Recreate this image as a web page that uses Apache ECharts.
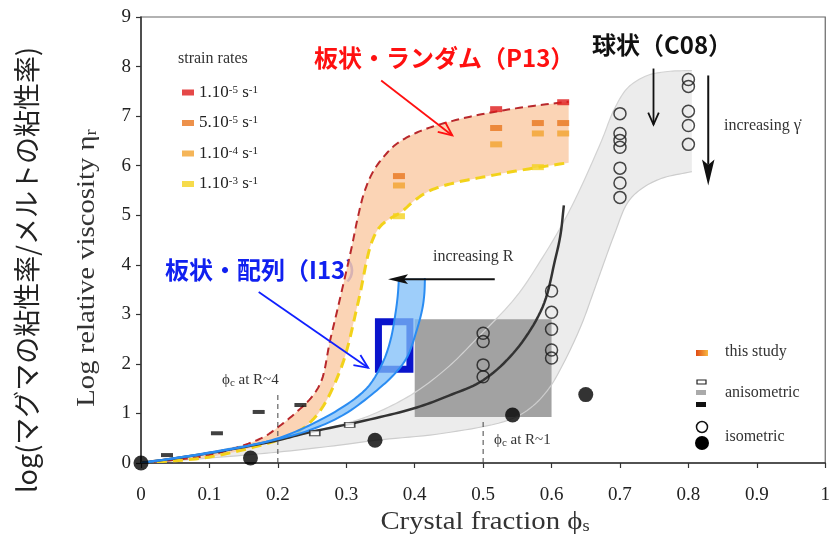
<!DOCTYPE html>
<html>
<head>
<meta charset="utf-8">
<script src="https://cdn.jsdelivr.net/npm/echarts@6/dist/echarts.min.js"></script>
<style>
  html, body { margin: 0; padding: 0; background: #fff; }
  #chart { width: 833px; height: 543px; }
</style>
</head>
<body>
<div id="chart"></div>
<script>
// ---- axis tick labels ----
const xTickLabels = ['0', '0.1', '0.2', '0.3', '0.4', '0.5', '0.6', '0.7', '0.8', '0.9', '1'];
const yTickLabels = ['0', '1', '2', '3', '4', '5', '6', '7', '8', '9'];

// ---- P13 (platy, random): envelope of this study ----
const p13Upper = [[0, 0], [0.1, 0.16], [0.176, 0.5], [0.2, 0.72], [0.225, 1.0], [0.25, 1.34], [0.264, 1.67],
  [0.276, 2.45], [0.288, 3.15], [0.308, 4.36], [0.316, 4.9], [0.326, 5.45], [0.338, 5.85], [0.35, 6.1],
  [0.37, 6.4], [0.39, 6.58], [0.418, 6.75], [0.46, 6.92], [0.514, 7.08], [0.57, 7.2], [0.625, 7.29]];
const p13Lower = [[0, 0], [0.1, 0.12], [0.2, 0.46], [0.226, 0.6], [0.259, 1.0], [0.293, 1.94], [0.317, 3.22],
  [0.337, 4.45], [0.35, 4.78], [0.365, 4.94], [0.38, 5.06], [0.4, 5.3], [0.423, 5.5], [0.46, 5.66],
  [0.5, 5.77], [0.56, 5.92], [0.625, 6.06]];

// ---- C08 (spherical) envelope ----
const c08Upper = [[0, 0], [0.1, 0.22], [0.2, 0.5], [0.3, 0.8], [0.345, 1.02], [0.4, 1.42], [0.45, 1.95],
  [0.49, 2.5], [0.548, 3.35], [0.587, 4.15], [0.615, 4.8], [0.639, 5.45], [0.673, 6.5], [0.692, 7.15],
  [0.712, 7.58], [0.74, 7.82], [0.77, 7.9], [0.805, 7.92]];
const c08Lower = [[0, 0], [0.1, 0.1], [0.2, 0.22], [0.29, 0.36], [0.345, 0.46], [0.442, 0.6], [0.538, 0.87],
  [0.57, 1.12], [0.596, 1.5], [0.62, 2.08], [0.644, 2.8], [0.66, 3.4], [0.675, 3.98], [0.692, 4.62],
  [0.711, 5.25], [0.73, 5.52], [0.76, 5.74], [0.805, 5.88]];

// ---- I13 (platy, aligned) envelope ----
const i13Left = [[0, 0], [0.095, 0.2], [0.191, 0.46], [0.24, 0.72], [0.288, 1.07], [0.32, 1.38], [0.336, 1.61],
  [0.355, 2.08], [0.365, 2.5], [0.371, 2.94], [0.375, 3.35], [0.377, 3.73]];
const i13Right = [[0, 0], [0.1, 0.2], [0.2, 0.48], [0.25, 0.68], [0.297, 0.98], [0.345, 1.47],
  [0.372, 1.82], [0.389, 2.14], [0.403, 2.68], [0.411, 3.1], [0.414, 3.4], [0.415, 3.73]];

// ---- suspension model curve (isometric) ----
const sphereCurve = [[0, 0], [0.1, 0.2], [0.2, 0.46], [0.24, 0.6], [0.335, 0.88], [0.403, 1.12],
  [0.45, 1.36], [0.5, 1.67], [0.548, 2.28], [0.587, 3.15], [0.605, 4.09], [0.613, 4.6], [0.618, 5.2]];

// ---- anisometric data range and I13 box ----
const anisoRangeX = [0.4, 0.6];
const anisoRangeY = [0.93, 2.9];
const i13BoxX = [0.347, 0.393];
const i13BoxY = [1.89, 2.85];

// ---- critical fractions ----
const phiC = [0.2, 0.5];
const phiCTop = [1.4, 0.9];

// ---- isometric data ----
const isoOpen = [[0.5, 2.62], [0.5, 2.45], [0.5, 1.98], [0.5, 1.74],
  [0.6, 3.47], [0.6, 3.04], [0.6, 2.7], [0.6, 2.28], [0.6, 2.12],
  [0.7, 7.05], [0.7, 6.65], [0.7, 6.51], [0.7, 6.37], [0.7, 5.95], [0.7, 5.65], [0.7, 5.36],
  [0.8, 7.74], [0.8, 7.6], [0.8, 7.1], [0.8, 6.81], [0.8, 6.43]];
const isoFilled = [[0, 0], [0.16, 0.1], [0.342, 0.46], [0.543, 0.97], [0.65, 1.38]];

// ---- anisometric data ----
const anisoFilled = [[0.038, 0.16], [0.111, 0.6], [0.172, 1.03], [0.233, 1.17]];
const anisoOpen = [[0.254, 0.6], [0.305, 0.77]];

// ---- this study, by strain rate ----
const rateNames = ['1.10-5 s-1', '5.10-5 s-1', '1.10-4 s-1', '1.10-3 s-1'];
const rateMantissa = ['1.10', '5.10', '1.10', '1.10'];
const rateExponent = ['-5', '-5', '-4', '-3'];
const rate1e5 = [[0.519, 7.14], [0.617, 7.28]];
const rate5e5 = [[0.377, 5.79], [0.519, 6.76], [0.58, 6.86], [0.617, 6.86]];
const rate1e4 = [[0.377, 5.6], [0.519, 6.43], [0.58, 6.65], [0.617, 6.65]];
const rate1e3 = [[0.377, 4.98], [0.58, 5.97]];
const rateColors = ['#de1a1a', '#e8761e', '#f2a22e', '#f4d21e'];

// ---- annotation arrows (data coordinates) ----
const arrowNotes = [
  { from: [0.351, 7.72], to: [0.455, 6.61], color: '#ff1010', head: 'open', size: 15 },
  { from: [0.172, 3.45], to: [0.332, 1.92], color: '#1020ff', head: 'open', size: 15 },
  { from: [0.749, 7.96], to: [0.749, 6.83], color: '#111', head: 'open', size: 13 },
  { from: [0.829, 7.82], to: [0.829, 5.6], color: '#111', head: 'filled', size: 26 },
  { from: [0.517, 3.71], to: [0.361, 3.71], color: '#111', head: 'filled', size: 20 }
];

const SERIF = '"Liberation Serif", "DejaVu Serif", serif';
const JP = '"Noto Sans CJK JP", "Noto Sans", sans-serif';

const chart = echarts.init(document.getElementById('chart'), null, { renderer: 'canvas' });

// centripetal Catmull-Rom through pixel points, for smooth outlines
function smoothPath(P, seg) {
  seg = seg || 10;
  if (P.length < 3) return P.slice();
  const out = [P[0]];
  const d = (a, b) => Math.max(Math.pow(Math.hypot(b[0] - a[0], b[1] - a[1]), 0.5), 1e-4);
  for (let i = 0; i < P.length - 1; i++) {
    const p1 = P[i], p2 = P[i + 1];
    const p0 = i > 0 ? P[i - 1] : [2 * p1[0] - p2[0], 2 * p1[1] - p2[1]];
    const p3 = i + 2 < P.length ? P[i + 2] : [2 * p2[0] - p1[0], 2 * p2[1] - p1[1]];
    const t0 = 0, t1 = t0 + d(p0, p1), t2 = t1 + d(p1, p2), t3 = t2 + d(p2, p3);
    for (let j = 1; j <= seg; j++) {
      const t = t1 + (t2 - t1) * j / seg;
      const pt = [0, 1].map(k => {
        const a1 = (t1 - t) / (t1 - t0) * p0[k] + (t - t0) / (t1 - t0) * p1[k];
        const a2 = (t2 - t) / (t2 - t1) * p1[k] + (t - t1) / (t2 - t1) * p2[k];
        const a3 = (t3 - t) / (t3 - t2) * p2[k] + (t - t2) / (t3 - t2) * p3[k];
        const b1 = (t2 - t) / (t2 - t0) * a1 + (t - t0) / (t2 - t0) * a2;
        const b2 = (t3 - t) / (t3 - t1) * a2 + (t - t1) / (t3 - t1) * a3;
        return (t2 - t) / (t2 - t1) * b1 + (t - t1) / (t2 - t1) * b2;
      });
      out.push(pt);
    }
  }
  return out;
}

// a filled envelope between two edges, with optional stroked edges
function envelope(name, a, b, fill, z, edgeA, edgeB) {
  return {
    type: 'custom', name: name, z: z, silent: true, clip: true,
    data: [[0, 0]],
    renderItem: function (params, api) {
      const pa = smoothPath(a.map(p => api.coord(p)));
      const pb = smoothPath(b.map(p => api.coord(p)));
      const children = [];
      if (fill) children.push({
        type: 'polygon',
        shape: { points: pa.concat(pb.slice().reverse()) },
        style: { fill: fill }
      });
      if (edgeA) children.push({ type: 'polyline', shape: { points: pa },
        style: Object.assign({ fill: null }, edgeA) });
      if (edgeB) children.push({ type: 'polyline', shape: { points: pb },
        style: Object.assign({ fill: null }, edgeB) });
      return { type: 'group', children: children };
    }
  };
}

function curveSeries(name, pts, style, z) {
  return {
    type: 'custom', name: name, z: z, silent: true, clip: true,
    data: [[0, 0]],
    renderItem: function (params, api) {
      return { type: 'polyline', shape: { points: smoothPath(pts.map(p => api.coord(p))) },
        style: Object.assign({ fill: null }, style) };
    }
  };
}

function boxSeries(name, xs, ys, style, z) {
  return {
    type: 'custom', name: name, z: z, silent: true,
    data: [[xs[0], ys[0]]],
    renderItem: function (params, api) {
      const p0 = api.coord([xs[0], ys[1]]);
      const p1 = api.coord([xs[1], ys[0]]);
      return { type: 'rect', shape: { x: p0[0], y: p0[1], width: p1[0] - p0[0], height: p1[1] - p0[1] }, style: style };
    }
  };
}

function arrowSeries() {
  return {
    type: 'custom', name: 'arrows', z: 20, silent: true, clip: false,
    data: arrowNotes.map((a, i) => [a.from[0], a.from[1], i]),
    renderItem: function (params, api) {
      const a = arrowNotes[params.dataIndex];
      const s = api.coord(a.from), e = api.coord(a.to);
      const ang = Math.atan2(e[1] - s[1], e[0] - s[0]);
      const L = a.size;
      const children = [];
      if (a.head === 'open') {
        const w = 0.42;
        const l1 = [e[0] - L * Math.cos(ang - w), e[1] - L * Math.sin(ang - w)];
        const l2 = [e[0] - L * Math.cos(ang + w), e[1] - L * Math.sin(ang + w)];
        children.push({ type: 'line', shape: { x1: s[0], y1: s[1], x2: e[0], y2: e[1] }, style: { stroke: a.color, lineWidth: 1.8 } });
        children.push({ type: 'polyline', shape: { points: [l1, e, l2] }, style: { stroke: a.color, lineWidth: 1.8, fill: null } });
      } else {
        const hw = a.size * 0.24;
        const base = [e[0] - L * Math.cos(ang), e[1] - L * Math.sin(ang)];
        const notch = [e[0] - L * 0.8 * Math.cos(ang), e[1] - L * 0.8 * Math.sin(ang)];
        const nx = -Math.sin(ang), ny = Math.cos(ang);
        children.push({ type: 'line', shape: { x1: s[0], y1: s[1], x2: notch[0], y2: notch[1] }, style: { stroke: a.color, lineWidth: 2 } });
        children.push({ type: 'polygon', shape: { points: [e, [base[0] + nx * hw, base[1] + ny * hw], notch, [base[0] - nx * hw, base[1] - ny * hw]] },
          style: { fill: a.color } });
      }
      return { type: 'group', children: children };
    }
  };
}

function rateSeries(i, data) {
  return {
    type: 'scatter', name: rateNames[i], data: data, z: 15,
    symbol: 'rect', symbolSize: [12, 6],
    itemStyle: { color: rateColors[i] }
  };
}

const option = {
  backgroundColor: '#fff',
  animation: false,
  grid: { left: 141, right: 2, top: 17, bottom: 80, show: true, borderColor: '#666', borderWidth: 1.2, backgroundColor: 'transparent' },
  xAxis: {
    type: 'value', min: 0, max: 1, interval: 0.1,
    axisLine: { lineStyle: { color: '#333', width: 1.5 } },
    axisTick: { length: 5, lineStyle: { color: '#333', width: 1.2 } },
    splitLine: { show: false },
    axisLabel: { fontFamily: SERIF, fontSize: 19, color: '#222', margin: 23,
      formatter: v => xTickLabels[Math.round(v * 10)] }
  },
  yAxis: {
    type: 'value', min: 0, max: 9, interval: 1,
    axisLine: { lineStyle: { color: '#333', width: 1.5 } },
    axisTick: { length: 5, lineStyle: { color: '#333', width: 1.2 } },
    splitLine: { show: false },
    axisLabel: { fontFamily: SERIF, fontSize: 19, color: '#222', margin: 10,
      formatter: v => yTickLabels[Math.round(v)] }
  },
  legend: {
    data: rateNames,
    orient: 'vertical', left: 177, top: 79, itemGap: 13,
    itemWidth: 12, itemHeight: 6, icon: 'rect',
    selectedMode: false,
    formatter: function (name) {
      const i = rateNames.indexOf(name);
      return '{m|' + rateMantissa[i] + '}{e|' + rateExponent[i] + '}{m| s}{e|-1}';
    },
    textStyle: {
      rich: {
        m: { fontFamily: SERIF, fontSize: 17, color: '#222', lineHeight: 16 },
        e: { fontFamily: SERIF, fontSize: 11, color: '#222', lineHeight: 16, verticalAlign: 'top', padding: [0, 0, 6, 0] }
      }
    }
  },
  series: [
    envelope('C08', c08Upper, c08Lower, '#ececec', 1),
    boxSeries('anisometric range', anisoRangeX, anisoRangeY, { fill: '#a2a2a2' }, 2),
    envelope('C08 edges', c08Upper, c08Lower, null, 3,
      { stroke: '#d2d2d2', lineWidth: 1.2 }, { stroke: '#cdcdcd', lineWidth: 1.2 }),
    envelope('P13', p13Upper, p13Lower, 'rgba(250,205,168,0.85)', 4,
      { stroke: '#b8282c', lineWidth: 2, lineDash: [8, 5] }, { stroke: '#f2d21a', lineWidth: 3, lineDash: [10, 6] }),
    curveSeries('model', sphereCurve, { stroke: '#333', lineWidth: 2.5 }, 5),
    boxSeries('I13 box', i13BoxX, i13BoxY, { fill: null, stroke: '#0a14cc', lineWidth: 7 }, 6),
    envelope('I13', i13Left, i13Right, 'rgba(125,190,248,0.75)', 7,
      { stroke: '#2a8cf2', lineWidth: 2 }, { stroke: '#2a8cf2', lineWidth: 2 }),
    {
      type: 'line', name: 'phi c R~4', data: [[phiC[0], 0], [phiC[0], phiCTop[0]]], symbol: 'none', z: 8,
      lineStyle: { color: '#444', width: 1, type: [5, 4] }
    },
    {
      type: 'line', name: 'phi c R~1', data: [[phiC[1], 0], [phiC[1], phiCTop[1]]], symbol: 'none', z: 8,
      lineStyle: { color: '#444', width: 1, type: [5, 4] }
    },
    { type: 'scatter', name: 'isometric open', data: isoOpen, z: 12, symbol: 'circle', symbolSize: 12,
      itemStyle: { color: 'transparent', borderColor: '#1a1a1a', borderWidth: 1.5 } },
    { type: 'scatter', name: 'isometric filled', data: isoFilled, z: 12, symbol: 'circle', symbolSize: 15,
      itemStyle: { color: '#000' } },
    { type: 'scatter', name: 'anisometric filled', data: anisoFilled, z: 12, symbol: 'rect', symbolSize: [12, 4],
      itemStyle: { color: '#111' } },
    { type: 'scatter', name: 'anisometric open', data: anisoOpen, z: 12, symbol: 'rect', symbolSize: [10, 5],
      itemStyle: { color: '#fff', borderColor: '#222', borderWidth: 1.2 } },
    rateSeries(0, rate1e5),
    rateSeries(1, rate5e5),
    rateSeries(2, rate1e4),
    rateSeries(3, rate1e3),
    arrowSeries()
  ],
  graphic: [
    // axis titles
    { type: 'text', x: 27, y: 270, rotation: Math.PI / 2, silent: true,
      style: { text: 'log(マグマの粘性率/メルトの粘性率)', font: '27px ' + JP, fill: '#222', align: 'center', verticalAlign: 'middle' } },
    { type: 'text', x: 87, y: 268, rotation: Math.PI / 2, scaleX: 1.15, silent: true,
      style: { text: '{a|Log relative viscosity η}{s|r}', align: 'center', verticalAlign: 'middle',
        rich: { a: { font: '25px ' + SERIF, fill: '#333' }, s: { font: '16px ' + SERIF, fill: '#333', padding: [9, 0, 0, 0] } } } },
    { type: 'text', x: 485, y: 522, scaleX: 1.15, silent: true,
      style: { text: '{a|Crystal fraction ϕ}{s|s}', align: 'center', verticalAlign: 'middle',
        rich: { a: { font: '25px ' + SERIF, fill: '#333' }, s: { font: '16px ' + SERIF, fill: '#333', padding: [9, 0, 0, 0] } } } },
    // strain-rate legend title
    { type: 'text', x: 178, y: 59, silent: true,
      style: { text: 'strain rates', font: '16px ' + SERIF, fill: '#333', align: 'left', verticalAlign: 'middle' } },
    // study labels
    { type: 'text', x: 314, y: 58, silent: true,
      style: { text: '板状・ランダム（P13）', font: 'bold 24px ' + JP, fill: '#ff1010', align: 'left', verticalAlign: 'middle' } },
    { type: 'text', x: 592, y: 45, silent: true,
      style: { text: '球状（C08）', font: 'bold 24px ' + JP, fill: '#111', align: 'left', verticalAlign: 'middle' } },
    { type: 'text', x: 165, y: 270, silent: true,
      style: { text: '板状・配列（I13）', font: 'bold 24px ' + JP, fill: '#1020f0', align: 'left', verticalAlign: 'middle' } },
    // process annotations
    { type: 'text', x: 724, y: 126, silent: true,
      style: { text: 'increasing γ̇', font: '16px ' + SERIF, fill: '#333', align: 'left', verticalAlign: 'middle' } },
    { type: 'text', x: 433, y: 257, silent: true,
      style: { text: 'increasing R', font: '16px ' + SERIF, fill: '#333', align: 'left', verticalAlign: 'middle' } },
    { type: 'text', x: 222, y: 380, silent: true,
      style: { text: '{a|ϕ}{s|c}{a| at R~4}', align: 'left', verticalAlign: 'middle',
        rich: { a: { font: '15px ' + SERIF, fill: '#333' }, s: { font: '11px ' + SERIF, fill: '#333', padding: [6, 0, 0, 0] } } } },
    { type: 'text', x: 494, y: 440, silent: true,
      style: { text: '{a|ϕ}{s|c}{a| at R~1}', align: 'left', verticalAlign: 'middle',
        rich: { a: { font: '15px ' + SERIF, fill: '#333' }, s: { font: '11px ' + SERIF, fill: '#333', padding: [6, 0, 0, 0] } } } },
    // symbol key
    { type: 'rect', shape: { x: 696, y: 350, width: 12, height: 6 }, silent: true,
      style: { fill: new echarts.graphic.LinearGradient(0, 0, 1, 0, [{ offset: 0, color: '#e04a14' }, { offset: 1, color: '#f8b842' }]) } },
    { type: 'text', x: 725, y: 352, silent: true,
      style: { text: 'this study', font: '16px ' + SERIF, fill: '#333', align: 'left', verticalAlign: 'middle' } },
    { type: 'rect', shape: { x: 697, y: 380, width: 9, height: 4 }, silent: true,
      style: { fill: '#fff', stroke: '#222', lineWidth: 1.2 } },
    { type: 'rect', shape: { x: 696, y: 390, width: 10, height: 5 }, silent: true, style: { fill: '#aaaaaa' } },
    { type: 'rect', shape: { x: 696, y: 402, width: 10, height: 5 }, silent: true, style: { fill: '#111' } },
    { type: 'text', x: 725, y: 393, silent: true,
      style: { text: 'anisometric', font: '16px ' + SERIF, fill: '#333', align: 'left', verticalAlign: 'middle' } },
    { type: 'circle', shape: { cx: 702, cy: 427, r: 5.5 }, silent: true, style: { fill: '#fff', stroke: '#111', lineWidth: 1.5 } },
    { type: 'circle', shape: { cx: 702, cy: 443, r: 7 }, silent: true, style: { fill: '#000' } },
    { type: 'text', x: 725, y: 437, silent: true,
      style: { text: 'isometric', font: '16px ' + SERIF, fill: '#333', align: 'left', verticalAlign: 'middle' } }
  ]
};

chart.setOption(option);
</script>
</body>
</html>
